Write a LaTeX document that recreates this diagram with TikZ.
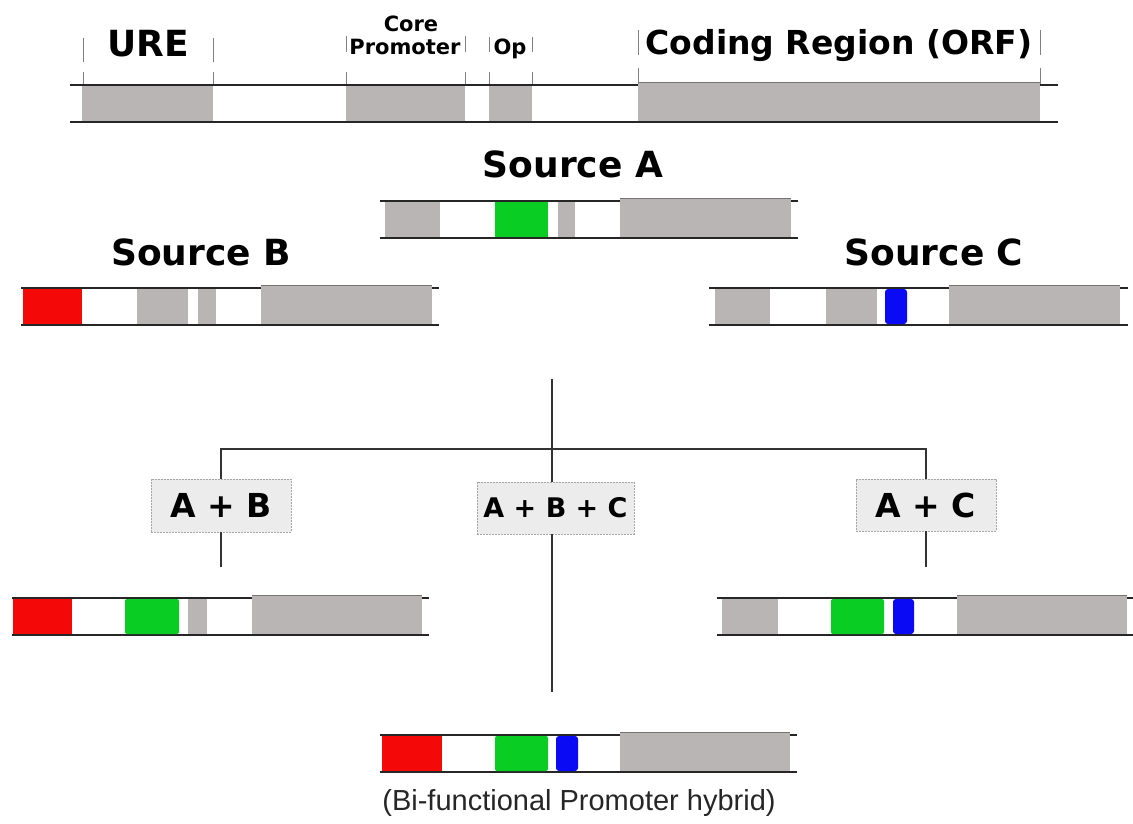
\documentclass[tikz,border=0pt]{standalone}
\usepackage{fontspec}
\newfontfamily\lblfont{DejaVu Sans}
\newfontfamily\capfont{Liberation Sans}
\usetikzlibrary{positioning}
\definecolor{blockgray}{RGB}{186,181,181}
\definecolor{edgegray}{RGB}{120,115,115}
\definecolor{urered}{RGB}{245,8,8}
\definecolor{opgreen}{RGB}{10,205,35}
\definecolor{opblue}{RGB}{10,10,245}
\definecolor{boxfill}{RGB}{236,236,236}

\begin{document}
\begin{tikzpicture}[x=1pt, y=-1pt,
  barline/.style={line width=1.6pt, black!85},
  orftop/.style={line width=1pt, edgegray},
  tickline/.style={line width=0.8pt, gray},
  link/.style={line width=2pt, black!80},
  mixbox/.style={draw=gray!70, dash pattern=on 2pt off 1pt, line width=0.8pt, fill=boxfill,
                 inner sep=0pt, minimum width=140pt, minimum height=53pt},
  srclabel/.style={anchor=base, font=\lblfont\bfseries\fontsize{36}{40}\selectfont},
  toplabel/.style={anchor=base, font=\lblfont\bfseries\fontsize{33}{38}\selectfont},
  smalllabel/.style={anchor=base, font=\lblfont\bfseries\fontsize{21}{24}\selectfont}
]
  \useasboundingbox (0,0) rectangle (1133,824);

  % reference layout
  \foreach \xa/\xb in {82/213, 346/465, 489/532}
    \fill[blockgray] (\xa,86) rectangle (\xb,121);
  \draw[barline] (70,85) -- (1058,85) (70,122) -- (1058,122);
  \fill[blockgray] (638,83) rectangle (1040,121);
  \draw[orftop] (638,83) -- (1040,83);
  \foreach \x/\ya/\yb/\yc in {83/38/62/72, 213/38/62/72, 346/36/52/72, 465/36/52/72,
                              489/37/52/72, 532/37/52/72, 638/30/55/68, 1040/30/55/68}
    \draw[tickline] (\x,\ya) -- (\x,\yb) (\x,\yc) -- (\x,84);
  \node[toplabel, font=\lblfont\bfseries\fontsize{36}{40}\selectfont] (ure) at (148,57) {URE};
  \node[smalllabel] (core) at (411,32) {Core};
  \node[smalllabel] (promoter) at (405,55) {Promoter};
  \node[smalllabel] (op) at (510,55) {Op};
  \node[toplabel] (orf) at (839,55) {Coding Region (ORF)};

  % source A
  \node[srclabel] (srca) at (573,178) {Source A};
  \draw[barline] (380,201) -- (798,201) (380,238) -- (798,238);
  \foreach \xa/\xb/\clr in {385/440/blockgray, 495/548/opgreen, 558/575/blockgray}
    \fill[\clr] (\xa,202) rectangle (\xb,237);
  \fill[blockgray] (620,198) rectangle (791,237);
  \draw[orftop] (620,198) -- (791,198);

  % source B
  \node[srclabel] (srcb) at (201,265) {Source B};
  \draw[barline] (21,288) -- (439,288) (21,325) -- (439,325);
  \foreach \xa/\xb/\clr in {23/82/urered, 137/188/blockgray, 198/216/blockgray}
    \fill[\clr] (\xa,289) rectangle (\xb,324);
  \fill[blockgray] (261,285) rectangle (432,324);
  \draw[orftop] (261,285) -- (432,285);

  % source C
  \node[srclabel] (srcc) at (934,265) {Source C};
  \draw[barline] (709,288) -- (1128,288) (709,325) -- (1128,325);
  \foreach \xa/\xb in {715/770, 826/877}
    \fill[blockgray] (\xa,289) rectangle (\xb,324);
  \fill[opblue, rounded corners=3pt] (885,289) rectangle (907,324);
  \fill[blockgray] (949,285) rectangle (1120,324);
  \draw[orftop] (949,285) -- (1120,285);

  % combinations
  \node[mixbox, font=\lblfont\bfseries\fontsize{33}{38}\selectfont] (ab) at (221,505.5) {A + B};
  \node[mixbox, minimum width=157pt, minimum height=52pt,
        font=\lblfont\bfseries\fontsize{27}{32}\selectfont] (abc) at (555.5,508) {A + B + C};
  \node[mixbox, minimum height=52pt, font=\lblfont\bfseries\fontsize{33}{38}\selectfont] (ac) at (926,505) {A + C};

  \coordinate (hub) at (552,379);
  \coordinate (abend) at (221,567);
  \coordinate (abcend) at (552,692);
  \coordinate (acend) at (926,567);
  \draw[link] (hub) -- (hub |- abc.north);
  \draw[link] (ab.north) -- ++(0,-30) -| (ac.north);
  \draw[link] (ab.south) -- (abend);
  \draw[link] (abcend |- abc.south) -- (abcend);
  \draw[link] (ac.south) -- (acend);

  % A + B
  \draw[barline] (12,598) -- (429,598) (12,635) -- (429,635);
  \fill[urered] (13,599) rectangle (72,634);
  \fill[opgreen, rounded corners=2pt] (125,599) rectangle (179,634);
  \fill[blockgray] (188,599) rectangle (207,634);
  \fill[blockgray] (252,595) rectangle (422,634);
  \draw[orftop] (252,595) -- (422,595);

  % A + C
  \draw[barline] (717,598) -- (1133,598) (717,635) -- (1133,635);
  \fill[blockgray] (722,599) rectangle (778,634);
  \fill[opgreen, rounded corners=2pt] (831,599) rectangle (884,634);
  \fill[opblue, rounded corners=3pt] (893,599) rectangle (914,634);
  \fill[blockgray] (957,595) rectangle (1127,634);
  \draw[orftop] (957,595) -- (1127,595);

  % A + B + C
  \draw[barline] (380,735) -- (797,735) (380,772) -- (797,772);
  \fill[urered] (382,736) rectangle (442,771);
  \fill[opgreen, rounded corners=2pt] (495,736) rectangle (548,771);
  \fill[opblue, rounded corners=3pt] (556,736) rectangle (578,771);
  \fill[blockgray] (620,732) rectangle (790,771);
  \draw[orftop] (620,732) -- (790,732);
  \node[anchor=base, font=\capfont\fontsize{29}{34}\selectfont, text=black!85] (hybridcap) at (579,810)
    {(Bi-functional Promoter hybrid)};
\end{tikzpicture}
\end{document}
